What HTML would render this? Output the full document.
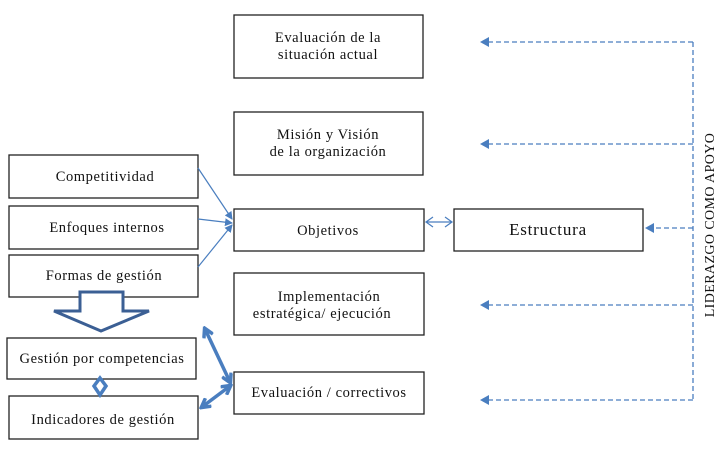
<!DOCTYPE html>
<html><head><meta charset="utf-8"><style>
html,body{margin:0;padding:0;background:#fff;}
svg{display:block;}
text{font-family:"Liberation Serif",serif;fill:#111;}
</style></head><body>
<svg width="724" height="452" viewBox="0 0 724 452" xmlns="http://www.w3.org/2000/svg">
<defs>
<marker id="ah" markerWidth="8" markerHeight="8" refX="7" refY="4" orient="auto" markerUnits="userSpaceOnUse">
<path d="M0,0 L8,4 L0,8 z" fill="#4a7ebf"/></marker>
<marker id="bh" markerWidth="12" markerHeight="12" refX="9" refY="6" orient="auto-start-reverse" markerUnits="userSpaceOnUse">
<path d="M1,1 L10,6 L1,11" fill="none" stroke="#4a7ebf" stroke-width="3.5"/></marker>
</defs>
<g fill="#fff" stroke="#222" stroke-width="1.3">
<rect x="234" y="15" width="189" height="63"/>
<rect x="234" y="112" width="189" height="63"/>
<rect x="234" y="209" width="190" height="42"/>
<rect x="234" y="273" width="190" height="62"/>
<rect x="234" y="372" width="190" height="42"/>
<rect x="454" y="209" width="189" height="42"/>
<rect x="9" y="155" width="189" height="43"/>
<rect x="9" y="206" width="189" height="43"/>
<rect x="9" y="255" width="189" height="42"/>
<rect x="7" y="338" width="189" height="41"/>
<rect x="9" y="396" width="189" height="43"/>
</g>
<g font-size="14.5" text-anchor="middle" letter-spacing="0.6">
<text x="328" y="42">Evaluación de la</text>
<text x="328" y="59">situación actual</text>
<text x="328" y="139">Misión y Visión</text>
<text x="328" y="156">de la organización</text>
<text x="328" y="235">Objetivos</text>
<text x="329" y="301">Implementación</text>
<text x="322" y="318">estratégica/ ejecución</text>
<text x="329" y="397">Evaluación / correctivos</text>
<text x="548" y="235" font-size="17" letter-spacing="0.8">Estructura</text>
<text x="105" y="181">Competitividad</text>
<text x="107" y="232">Enfoques internos</text>
<text x="104" y="280">Formas de gestión</text>
<text x="102" y="363">Gestión por competencias</text>
<text x="103" y="424">Indicadores de gestión</text>
<text transform="translate(714,225) rotate(-90)" font-size="14" letter-spacing="0.4">LIDERAZGO COMO APOYO</text>
</g>
<g stroke="#4a7ebf" stroke-width="1.2" fill="none">
<line x1="198" y1="168" x2="232" y2="219" marker-end="url(#ah)"/>
<line x1="198" y1="219" x2="232" y2="223" marker-end="url(#ah)"/>
<line x1="198" y1="267" x2="232" y2="225" marker-end="url(#ah)"/>
<path d="M426,222 L452,222 M433,217 L426,222 L433,227 M445,217 L452,222 L445,227"/>
</g>
<g stroke="#4a7ebf" stroke-width="1.3" stroke-dasharray="5,3" fill="none">
<line x1="693" y1="42" x2="693" y2="400"/>
<line x1="693" y1="42" x2="487" y2="42"/>
<line x1="693" y1="144" x2="487" y2="144"/>
<line x1="693" y1="228" x2="652" y2="228"/>
<line x1="693" y1="305" x2="487" y2="305"/>
<line x1="693" y1="400" x2="487" y2="400"/>
</g>
<g fill="#4a7ebf">
<path d="M480,42 L489,37 L489,47 z"/>
<path d="M480,144 L489,139 L489,149 z"/>
<path d="M645,228 L654,223 L654,233 z"/>
<path d="M480,305 L489,300 L489,310 z"/>
<path d="M480,400 L489,395 L489,405 z"/>
</g>
<path d="M80,292 L123,292 L123,311 L149,311 L101,331 L54,311 L80,311 z" fill="#fff" stroke="#3b5f94" stroke-width="3"/>
<g stroke="#4a7ebf" stroke-width="3.5" fill="none">
<line x1="205" y1="329" x2="230" y2="382" marker-start="url(#bh)" marker-end="url(#bh)"/>
<line x1="202" y1="407" x2="230" y2="386" marker-start="url(#bh)" marker-end="url(#bh)"/>
</g>
<path d="M100,378 L106,386 L100,395 L94,386 z" fill="#fff" stroke="#4a7ebf" stroke-width="3.5"/>
</svg>
</body></html>
